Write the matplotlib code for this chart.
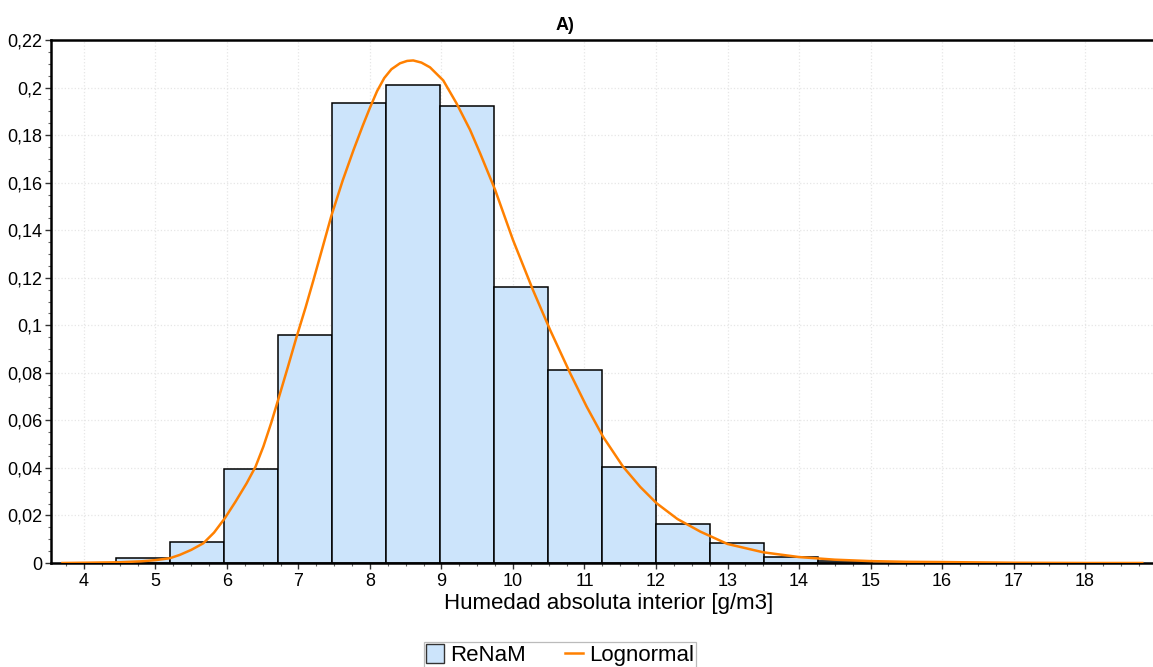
import matplotlib
matplotlib.use("Agg")
import matplotlib.pyplot as plt
from matplotlib.ticker import MultipleLocator, FuncFormatter
from matplotlib.patches import Patch
from matplotlib.lines import Line2D

plt.rcParams['font.family'] = ['Liberation Sans', 'DejaVu Sans']

# Histogram bins (left edge, width) and relative frequencies
bin_start = 4.455
bin_width = 0.7545
freqs = [0.002, 0.0087, 0.0394, 0.0958, 0.1937, 0.2012, 0.1922,
         0.1163, 0.0810, 0.0404, 0.0164, 0.0084, 0.0025, 0.0010]

# Fitted lognormal density
curve_x = [3.7, 4.0, 4.5, 4.8, 5.0, 5.2, 5.34, 5.5, 5.67, 5.82, 5.97, 6.12,
           6.275, 6.4, 6.51, 6.62, 6.72, 6.85, 6.975, 7.1, 7.21, 7.34, 7.46,
           7.62, 7.77, 7.9, 8.0, 8.1, 8.2, 8.3, 8.42, 8.52, 8.605, 8.72,
           8.84, 9.025, 9.21, 9.4, 9.54, 9.75, 10.0, 10.28, 10.52, 10.8,
           11.03, 11.26, 11.54, 11.78, 12.01, 12.3, 12.62, 13.0, 13.5, 14.0,
           14.5, 15.0, 15.5, 16.0, 17.0, 18.0, 18.8]
curve_y = [0.0, 0.0001, 0.0003, 0.0007, 0.0012, 0.0020, 0.0034, 0.0055,
           0.0083, 0.0128, 0.0188, 0.0258, 0.0335, 0.0405, 0.0490, 0.0590,
           0.0690, 0.0822, 0.0952, 0.1075, 0.1190, 0.1330, 0.1460, 0.1610,
           0.1737, 0.1840, 0.1915, 0.1985, 0.2040, 0.2077, 0.2102, 0.2112,
           0.2114, 0.2105, 0.2085, 0.2030, 0.1934, 0.1822, 0.1724, 0.1570,
           0.1359, 0.1148, 0.0980, 0.0798, 0.0658, 0.0531, 0.0405, 0.0320,
           0.0251, 0.0185, 0.0132, 0.0080, 0.0045, 0.0025, 0.0014, 0.0008,
           0.0005, 0.0004, 0.0001, 0.0, 0.0]

title = "A)"
xlabel = "Humedad absoluta interior [g/m3]"
series_names = ["ReNaM", "Lognormal"]

bar_color = "#cce4fb"
line_color = "#ff8000"

fig = plt.figure(figsize=(11.53, 6.67), dpi=100)
ax = fig.add_axes([51 / 1153, 1 - 563 / 667, 1102 / 1153, 523 / 667])

lefts = [bin_start + i * bin_width for i in range(len(freqs))]
ax.bar(lefts, freqs, width=bin_width, align='edge', color=bar_color,
       edgecolor='black', linewidth=1.1, zorder=2)
ax.plot(curve_x, curve_y, color=line_color, linewidth=1.8, zorder=3)

ax.set_xlim(3.54, 18.95)
ax.set_ylim(0, 0.22)
ax.xaxis.set_major_locator(MultipleLocator(1))
ax.xaxis.set_minor_locator(MultipleLocator(0.25))
ax.yaxis.set_major_locator(MultipleLocator(0.02))
ax.yaxis.set_minor_locator(MultipleLocator(0.005))


def comma_fmt(v, pos):
    s = f"{v:.2f}".rstrip('0').rstrip('.')
    return s.replace('.', ',')


ax.yaxis.set_major_formatter(FuncFormatter(comma_fmt))
ax.tick_params(axis='both', which='major', direction='out', length=4,
               width=1, labelsize=13, colors='#333333', labelcolor='black')
ax.tick_params(axis='both', which='minor', direction='out', length=2,
               width=0.8, colors='#666666')
ax.tick_params(axis='y', pad=2)
ax.tick_params(axis='x', pad=3)

ax.grid(True, which='major', color='#e6e6e6', linestyle=':', linewidth=0.9,
        zorder=0)
ax.set_axisbelow(True)

for side in ['left', 'bottom', 'top']:
    ax.spines[side].set_linewidth(1.8)
    ax.spines[side].set_color('black')
ax.spines['right'].set_visible(False)

ax.set_xlabel(xlabel, fontsize=16)
ax.xaxis.set_label_coords((609 - 51) / 1102, -(604 - 563) / 523)
ax.xaxis.label.set_va('center')

fig.text(565 / 1153, 1 - 25 / 667, title, ha='center', va='center',
         fontsize=13, fontweight='bold')

handles = [Patch(facecolor=bar_color, edgecolor='#333333', linewidth=1.0),
           Line2D([], [], color=line_color, linewidth=1.8)]
leg = fig.legend(handles, series_names, loc='upper center', ncol=2,
                 bbox_to_anchor=(560 / 1153, 1 - 642 / 667), fontsize=16,
                 frameon=True, fancybox=False, edgecolor='#aaaaaa',
                 borderpad=0.1, handlelength=0.8, handleheight=0.9,
                 handletextpad=0.25, columnspacing=1.8, borderaxespad=0)
leg.get_frame().set_linewidth(0.9)

fig.savefig("out.png", dpi=100)
